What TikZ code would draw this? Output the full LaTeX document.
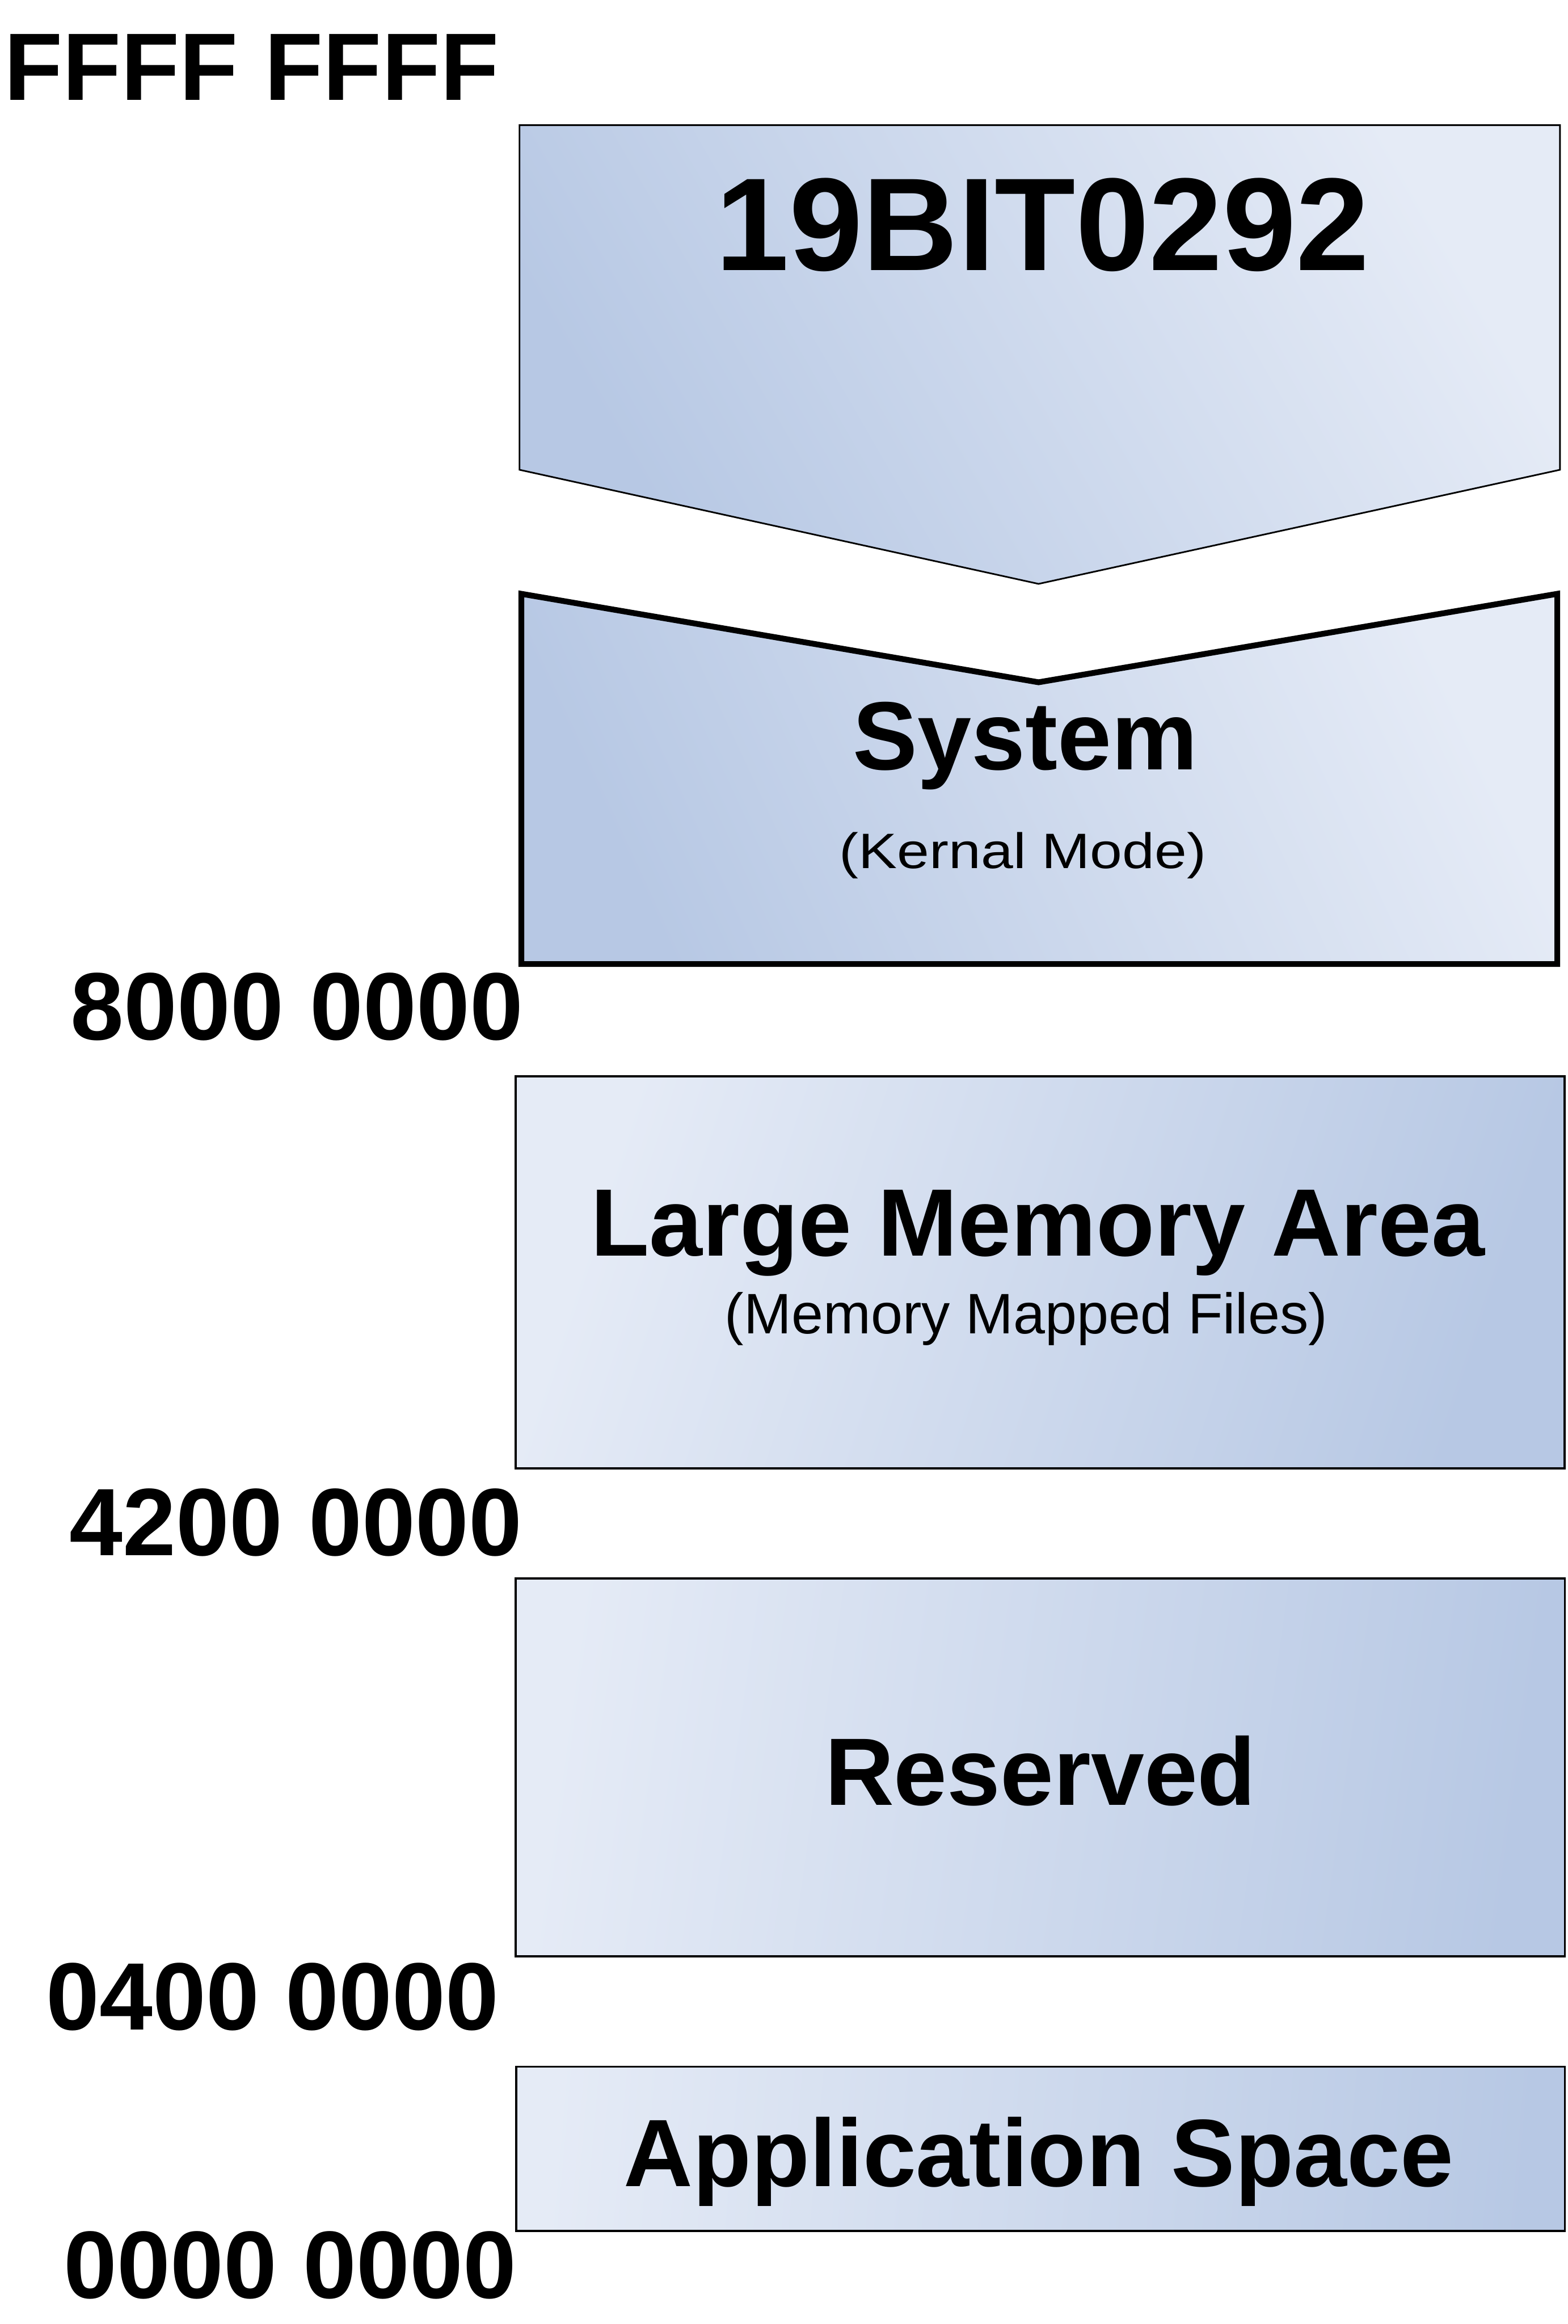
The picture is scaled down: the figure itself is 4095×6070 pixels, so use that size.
\documentclass[tikz,border=0pt]{standalone}
\usepackage{fontspec}
\setmainfont{Liberation Sans}
\usepackage{graphicx}
\definecolor{blight}{RGB}{229,235,246}
\definecolor{bdark}{RGB}{183,200,228}
\tikzset{
  addr/.style={inner sep=0pt, anchor=base, font=\fontsize{71.13pt}{80pt}\selectfont\bfseries},
  title/.style={inner sep=0pt, anchor=base, font=\fontsize{71.13pt}{80pt}\selectfont\bfseries},
  sub/.style={inner sep=0pt, anchor=base, font=\fontsize{42.4pt}{48pt}\selectfont},
  thinbox/.style={draw=black, line width=1.6pt, line join=miter},
  thickbox/.style={draw=black, line width=4.3pt, line join=miter},
}
\begin{document}
\begin{tikzpicture}[x=0.01cm, y=-0.01cm]
\useasboundingbox (0,0) rectangle (4095,6070);

% top chevron
\shade[thinbox, line width=1.2pt, top color=blight, bottom color=bdark, shading angle=-60]
  (1357,327) -- (4075,327) -- (4075,1227) -- (2713,1525) -- (1357,1227) -- cycle;

% System box with notch
\shade[thickbox, top color=blight, bottom color=bdark, shading angle=-65]
  (1362,1551) -- (2713,1782) -- (4068,1551) -- (4068,2518) -- (1362,2518) -- cycle;

% Large memory area
\shade[thinbox, top color=blight, bottom color=bdark, shading angle=72]
  (1347,2811) rectangle (4087,3835);

% Reserved
\shade[thinbox, top color=blight, bottom color=bdark, shading angle=82]
  (1347,4123) rectangle (4088,5110);

% Application space
\shade[thinbox, top color=blight, bottom color=bdark, shading angle=85]
  (1349,5398) rectangle (4088,5827);

% labels
\node[addr] (ffff) at (657,262) {FFFF FFFF};
\node[inner sep=0pt, anchor=base, font=\fontsize{98.16pt}{110pt}\selectfont\bfseries] (id) at (2724,706) {19BIT0292};
\node[title, font=\fontsize{72pt}{80pt}\selectfont\bfseries] (sys) at (2679,2010) {System};
\node[inner sep=0pt, anchor=base, font=\fontsize{43pt}{48pt}\selectfont] (kern) at (2672,2268) {\scalebox{1}[0.86]{(Kernal Mode)}};
\node[addr] (a8) at (776,2715) {8000 0000};
\node[title] (lma) at (2711,3280) {Large Memory Area};
\node[sub] (mmf) at (2681,3483) {(Memory Mapped Files)};
\node[addr] (a42) at (773,4063) {4200 0000};
\node[title] (res) at (2718,4715) {Reserved};
\node[addr] (a04) at (712,5301) {0400 0000};
\node[title] (app) at (2713,5711) {Application Space};
\node[addr] (a00) at (758,6003) {0000 0000};
\end{tikzpicture}
\end{document}
